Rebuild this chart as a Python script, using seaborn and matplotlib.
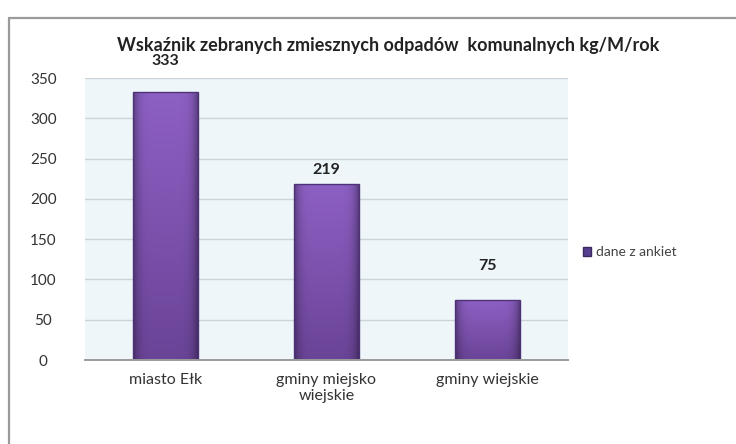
import matplotlib
matplotlib.use("Agg")
import matplotlib.pyplot as plt
import seaborn as sns
import pandas as pd
import numpy as np
from matplotlib.patches import Patch
from matplotlib.lines import Line2D
from matplotlib.colors import LinearSegmentedColormap

categories = ["miasto Ełk", "gminy miejsko\nwiejskie", "gminy wiejskie"]
values = [333, 219, 75]
series_name = "dane z ankiet"
title = "Wskaźnik zebranych zmiesznych odpadów  komunalnych kg/M/rok"
yticks = [0, 50, 100, 150, 200, 250, 300, 350]
label_pads = [17, 5, 19]

sns.set_theme(style="white")
plt.rcParams["font.family"] = ["Lato", "DejaVu Sans"]

df = pd.DataFrame({"kategoria": categories, "wartość": values})

fig = plt.figure(figsize=(7.36, 4.44), dpi=100)
fig.patch.set_facecolor("white")
# chart frame: top and left edges visible
fig.lines.append(Line2D([9/736, 9/736], [0, 1 - 18/444], transform=fig.transFigure,
                        color="#9a9a9a", linewidth=1.6))
fig.lines.append(Line2D([9/736, 1], [1 - 18/444, 1 - 18/444], transform=fig.transFigure,
                        color="#9a9a9a", linewidth=1.6))

ax = fig.add_axes([85/736, 84/444, (568-85)/736, (360-78)/444])
ax.set_facecolor("#eef6f9")
sns.barplot(data=df, x="kategoria", y="wartość", color="#7a50aa", width=0.4,
            saturation=1, ax=ax, edgecolor="#4e3278", linewidth=1.0, zorder=3)
ax.set_ylim(0, 350)
ax.set_xlim(-0.5, len(categories) - 0.5)

# gradient fill for bars (lighter top, darker bottom; darker sides)
cmap = LinearSegmentedColormap.from_list("bar", ["#6a4497", "#7c52ae", "#8d60c4"])
hgrad = np.linspace(0, 1, 64)
side = 1 - 0.35 * (np.abs(hgrad - 0.5) * 2) ** 6
bars = ax.containers[0]
for rect in bars:
    x0, w, h = rect.get_x(), rect.get_width(), rect.get_height()
    vgrad = np.linspace(0, 1, 128)[:, None]
    img = cmap(vgrad * np.ones((1, 64)))
    img[..., :3] *= side[None, :, None]
    im = ax.imshow(img, extent=[x0, x0 + w, 0, h], origin="lower", aspect="auto",
                   zorder=3.5, interpolation="bilinear")
    im.set_clip_path(rect)
    rect.set_facecolor("none")
    rect.set_zorder(4)
ax.set_aspect("auto")
ax.set_ylim(0, 350)
ax.set_xlim(-0.5, len(categories) - 0.5)

ax.set_yticks(yticks)
ax.set_yticklabels([str(t) for t in yticks], fontsize=11, color="#333333", ha="center")
ax.yaxis.grid(True, color="#c9d3d8", linewidth=1.0, zorder=0)
ax.set_axisbelow(True)
for s in ["top", "right", "left"]:
    ax.spines[s].set_visible(False)
ax.spines["bottom"].set_color("#9a9a9a")
ax.spines["bottom"].set_linewidth(1.4)
ax.spines["bottom"].set_zorder(5)
ax.tick_params(axis="y", length=0, pad=30)
ax.tick_params(axis="x", length=0, pad=9)
ax.set_xticks(range(len(categories)))
ax.set_xticklabels(categories, fontsize=11.5, color="#333333")
ax.set_xlabel("")
ax.set_ylabel("")

for rect, v, p in zip(bars, values, label_pads):
    ax.annotate(str(v), (rect.get_x() + rect.get_width() / 2, rect.get_height()),
                xytext=(0, p), textcoords="offset points", ha="center", va="bottom",
                fontsize=11.5, fontweight="bold", color="#222222", annotation_clip=False)

fig.text(388/736, 1 - 45/444, title, ha="center", va="center", fontsize=13,
         fontweight="bold", color="#222222")

leg = fig.legend(handles=[Patch(facecolor="#55408f", edgecolor="#3a2a60")], labels=[series_name],
                 loc="center left", bbox_to_anchor=(570/736, 1 - 252/444), frameon=False,
                 fontsize=10, handlelength=0.6, handleheight=0.6, handletextpad=0.4)
for t in leg.get_texts():
    t.set_color("#444444")

fig.savefig("out.png", dpi=100)
